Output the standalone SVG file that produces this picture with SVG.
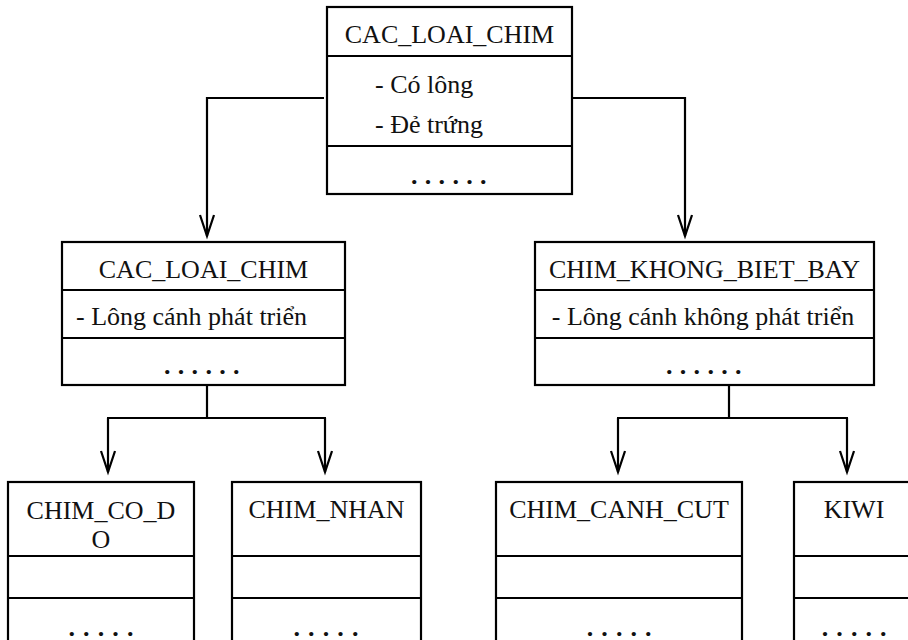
<svg xmlns="http://www.w3.org/2000/svg" width="908" height="640" viewBox="0 0 908 640">
<style>
.box{fill:#fff;stroke:#000;stroke-width:2.2}
.sep{stroke:#000;stroke-width:2.2}
.t{font-family:"Liberation Serif","Times New Roman",serif;font-size:26px;fill:#111}
.c{text-anchor:middle}
.d{letter-spacing:7.3px;font-weight:bold}
.d5{letter-spacing:8.1px;font-weight:bold}
.conn{fill:none;stroke:#000;stroke-width:2.2}
</style>
<defs>
<marker id="arr" markerUnits="userSpaceOnUse" markerWidth="26" markerHeight="18" refX="22" refY="8" orient="auto">
<path d="M1,1 L22,8 L1,15" fill="none" stroke="#000" stroke-width="2.2"/>
</marker>
</defs>
<rect width="908" height="640" fill="#fff"/>
<g id="connectors">
<path class="conn" d="M324,98 H207 V236" marker-end="url(#arr)"/>
<path class="conn" d="M569,98 H685 V236" marker-end="url(#arr)"/>
<path class="conn" d="M207,385 V418"/>
<path class="conn" d="M107,418 H326"/>
<path class="conn" d="M108,418 V472" marker-end="url(#arr)"/>
<path class="conn" d="M325,418 V472" marker-end="url(#arr)"/>
<path class="conn" d="M729,385 V418"/>
<path class="conn" d="M617,418 H848"/>
<path class="conn" d="M618,418 V472" marker-end="url(#arr)"/>
<path class="conn" d="M847,418 V472" marker-end="url(#arr)"/>
</g>
<g id="root">
<rect class="box" x="327" y="7" width="245" height="187"/>
<line class="sep" x1="327" y1="56" x2="572" y2="56"/>
<line class="sep" x1="327" y1="146" x2="572" y2="146"/>
<text class="t c" x="449.5" y="43">CAC_LOAI_CHIM</text>
<text class="t" x="375" y="93">- Có lông</text>
<text class="t" x="375" y="133">- Đẻ trứng</text>
<text class="t d" x="411" y="184">......</text>
</g>
<g id="cac_loai_chim">
<rect class="box" x="62" y="242" width="283" height="143"/>
<line class="sep" x1="62" y1="290" x2="345" y2="290"/>
<line class="sep" x1="62" y1="338" x2="345" y2="338"/>
<text class="t c" x="203.5" y="278">CAC_LOAI_CHIM</text>
<text class="t" x="76" y="325">- Lông cánh phát triển</text>
<text class="t d" x="164" y="374">......</text>
</g>
<g id="chim_khong_biet_bay">
<rect class="box" x="535" y="242" width="339" height="143"/>
<line class="sep" x1="535" y1="290" x2="874" y2="290"/>
<line class="sep" x1="535" y1="338" x2="874" y2="338"/>
<text class="t c" x="704.5" y="278">CHIM_KHONG_BIET_BAY</text>
<text class="t c" x="703" y="325">- Lông cánh không phát triển</text>
<text class="t d" x="666" y="374">......</text>
</g>
<g id="chim_co_do">
<rect class="box" x="8" y="482" width="186" height="180"/>
<line class="sep" x1="8" y1="556" x2="194" y2="556"/>
<line class="sep" x1="8" y1="598" x2="194" y2="598"/>
<text class="t c" x="101" y="519">CHIM_CO_D</text>
<text class="t c" x="101" y="548">O</text>
<text class="t d5" x="68.5" y="635.5">.....</text>
</g>
<g id="chim_nhan">
<rect class="box" x="232" y="482" width="189" height="180"/>
<line class="sep" x1="232" y1="556" x2="421" y2="556"/>
<line class="sep" x1="232" y1="598" x2="421" y2="598"/>
<text class="t c" x="326.5" y="518">CHIM_NHAN</text>
<text class="t d5" x="293.5" y="635.5">.....</text>
</g>
<g id="chim_canh_cut">
<rect class="box" x="496" y="482" width="246" height="180"/>
<line class="sep" x1="496" y1="556" x2="742" y2="556"/>
<line class="sep" x1="496" y1="598" x2="742" y2="598"/>
<text class="t c" x="619" y="518">CHIM_CANH_CUT</text>
<text class="t d5" x="586.7" y="635.5">.....</text>
</g>
<g id="kiwi">
<rect class="box" x="794" y="482" width="122" height="180"/>
<line class="sep" x1="794" y1="556" x2="916" y2="556"/>
<line class="sep" x1="794" y1="598" x2="916" y2="598"/>
<text class="t c" x="854" y="518">KIWI</text>
<text class="t d5" x="821.7" y="635.5">.....</text>
</g>
</svg>
